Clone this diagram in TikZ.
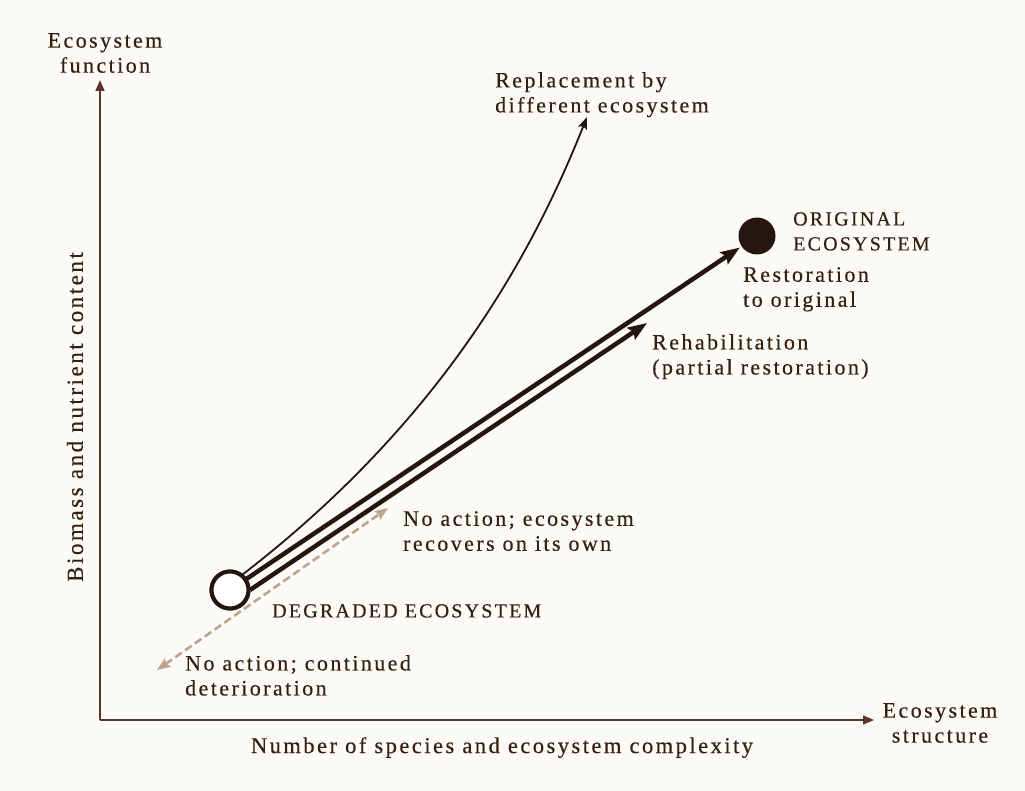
\documentclass[tikz,border=0pt]{standalone}
\usepackage{fontspec}
\setmainfont[LetterSpace=11,FakeBold=0.35]{Liberation Serif}
\usetikzlibrary{arrows.meta}
\definecolor{ink}{HTML}{24150F}
\definecolor{txt}{HTML}{35200F}
\definecolor{axisc}{HTML}{5A3526}
\definecolor{dashc}{HTML}{BBA58F}
\definecolor{paper}{HTML}{FCFAF6}
\begin{document}
\begin{tikzpicture}[x=1pt,y=-1pt,
  lbl/.style={text=txt, font=\fontsize{22}{25}\selectfont, inner sep=0pt},
  caps/.style={lbl, font=\fontsize{20}{25}\selectfont},
  axisline/.style={draw=axisc, line width=1.6pt, -{Triangle[length=11pt,width=9pt]}},
  ring/.style={circle, draw=ink, line width=4pt, fill=white, minimum size=37pt, inner sep=0pt, outer sep=0pt},
  dot/.style={circle, fill=ink, minimum size=37pt, inner sep=0pt},
  path main/.style={draw=ink, line width=4.5pt, -{Stealth[length=19pt,width=14pt,inset=3pt]}},
  path thin/.style={draw=ink, line width=1.8pt, -{Stealth[length=12pt,width=9pt,inset=2pt]}},
  path dash/.style={draw=dashc, line width=2.6pt, dash pattern=on 8pt off 4pt, {Stealth[length=13pt,width=10pt,inset=2pt]}-{Stealth[length=13pt,width=10pt,inset=2pt]}}
]
\fill[paper] (0,0) rectangle (1025,791);
\useasboundingbox (0,0) rectangle (1025,791);

% axes
\coordinate (O) at (100,720);
\coordinate (ytip) at (100,80);
\coordinate (xtip) at (874,720);
\draw[axisline] (O) -- (ytip);
\draw[axisline] (O) -- (xtip);

% axis labels
\node[lbl, align=center, anchor=north] (yl) at (105,33) {Ecosystem\\function};
\node[lbl, align=center, anchor=north] (xl) at (940,703) {Ecosystem\\structure};
\node[lbl, anchor=north, font=\fontsize{22.5}{25}\selectfont] (xt) at (502,737) {Number of species and ecosystem complexity};
\node[lbl, rotate=90, font=\fontsize{23}{25}\selectfont] (yt) at (75,417) {Biomass and nutrient content};

% states
\node[dot] (orig) at (757,236) {};
\node[ring] (deg) at (230,590) {};

% paths
\coordinate (rehabS) at (250,590);
\coordinate (rehabE) at (647,323);
\coordinate (replE) at (587,117);
\coordinate (dA) at (388,508);
\coordinate (dB) at (157,670);

\draw[path dash] (dB) -- (dA);
\draw[path thin] (deg.52) .. controls (450,415) and (537,242) .. (replE);
\draw[path main, shorten >=2pt] (deg) -- (orig);
\draw[path main] (rehabS) -- (rehabE);
\node[ring] at (deg) {};

% labels
\node[lbl, align=left, anchor=north west] (repl) at (495,72) {Replacement by\\different ecosystem};
\node[caps, align=left, anchor=north west] (origT) at (793,212) {ORIGINAL\\ECOSYSTEM};
\node[lbl, align=left, anchor=north west] (rest) at (743,267) {Restoration\\to original};
\node[lbl, align=left, anchor=north west] (rehab) at (652,334) {Rehabilitation\\(partial restoration)};
\node[lbl, align=left, anchor=north west] (recov) at (403,511) {No action; ecosystem\\recovers on its own};
\node[caps, anchor=north west] (degT) at (272,604) {DEGRADED ECOSYSTEM};
\node[lbl, align=left, anchor=north west] (det) at (185,655) {No action; continued\\deterioration};
\end{tikzpicture}
\end{document}
